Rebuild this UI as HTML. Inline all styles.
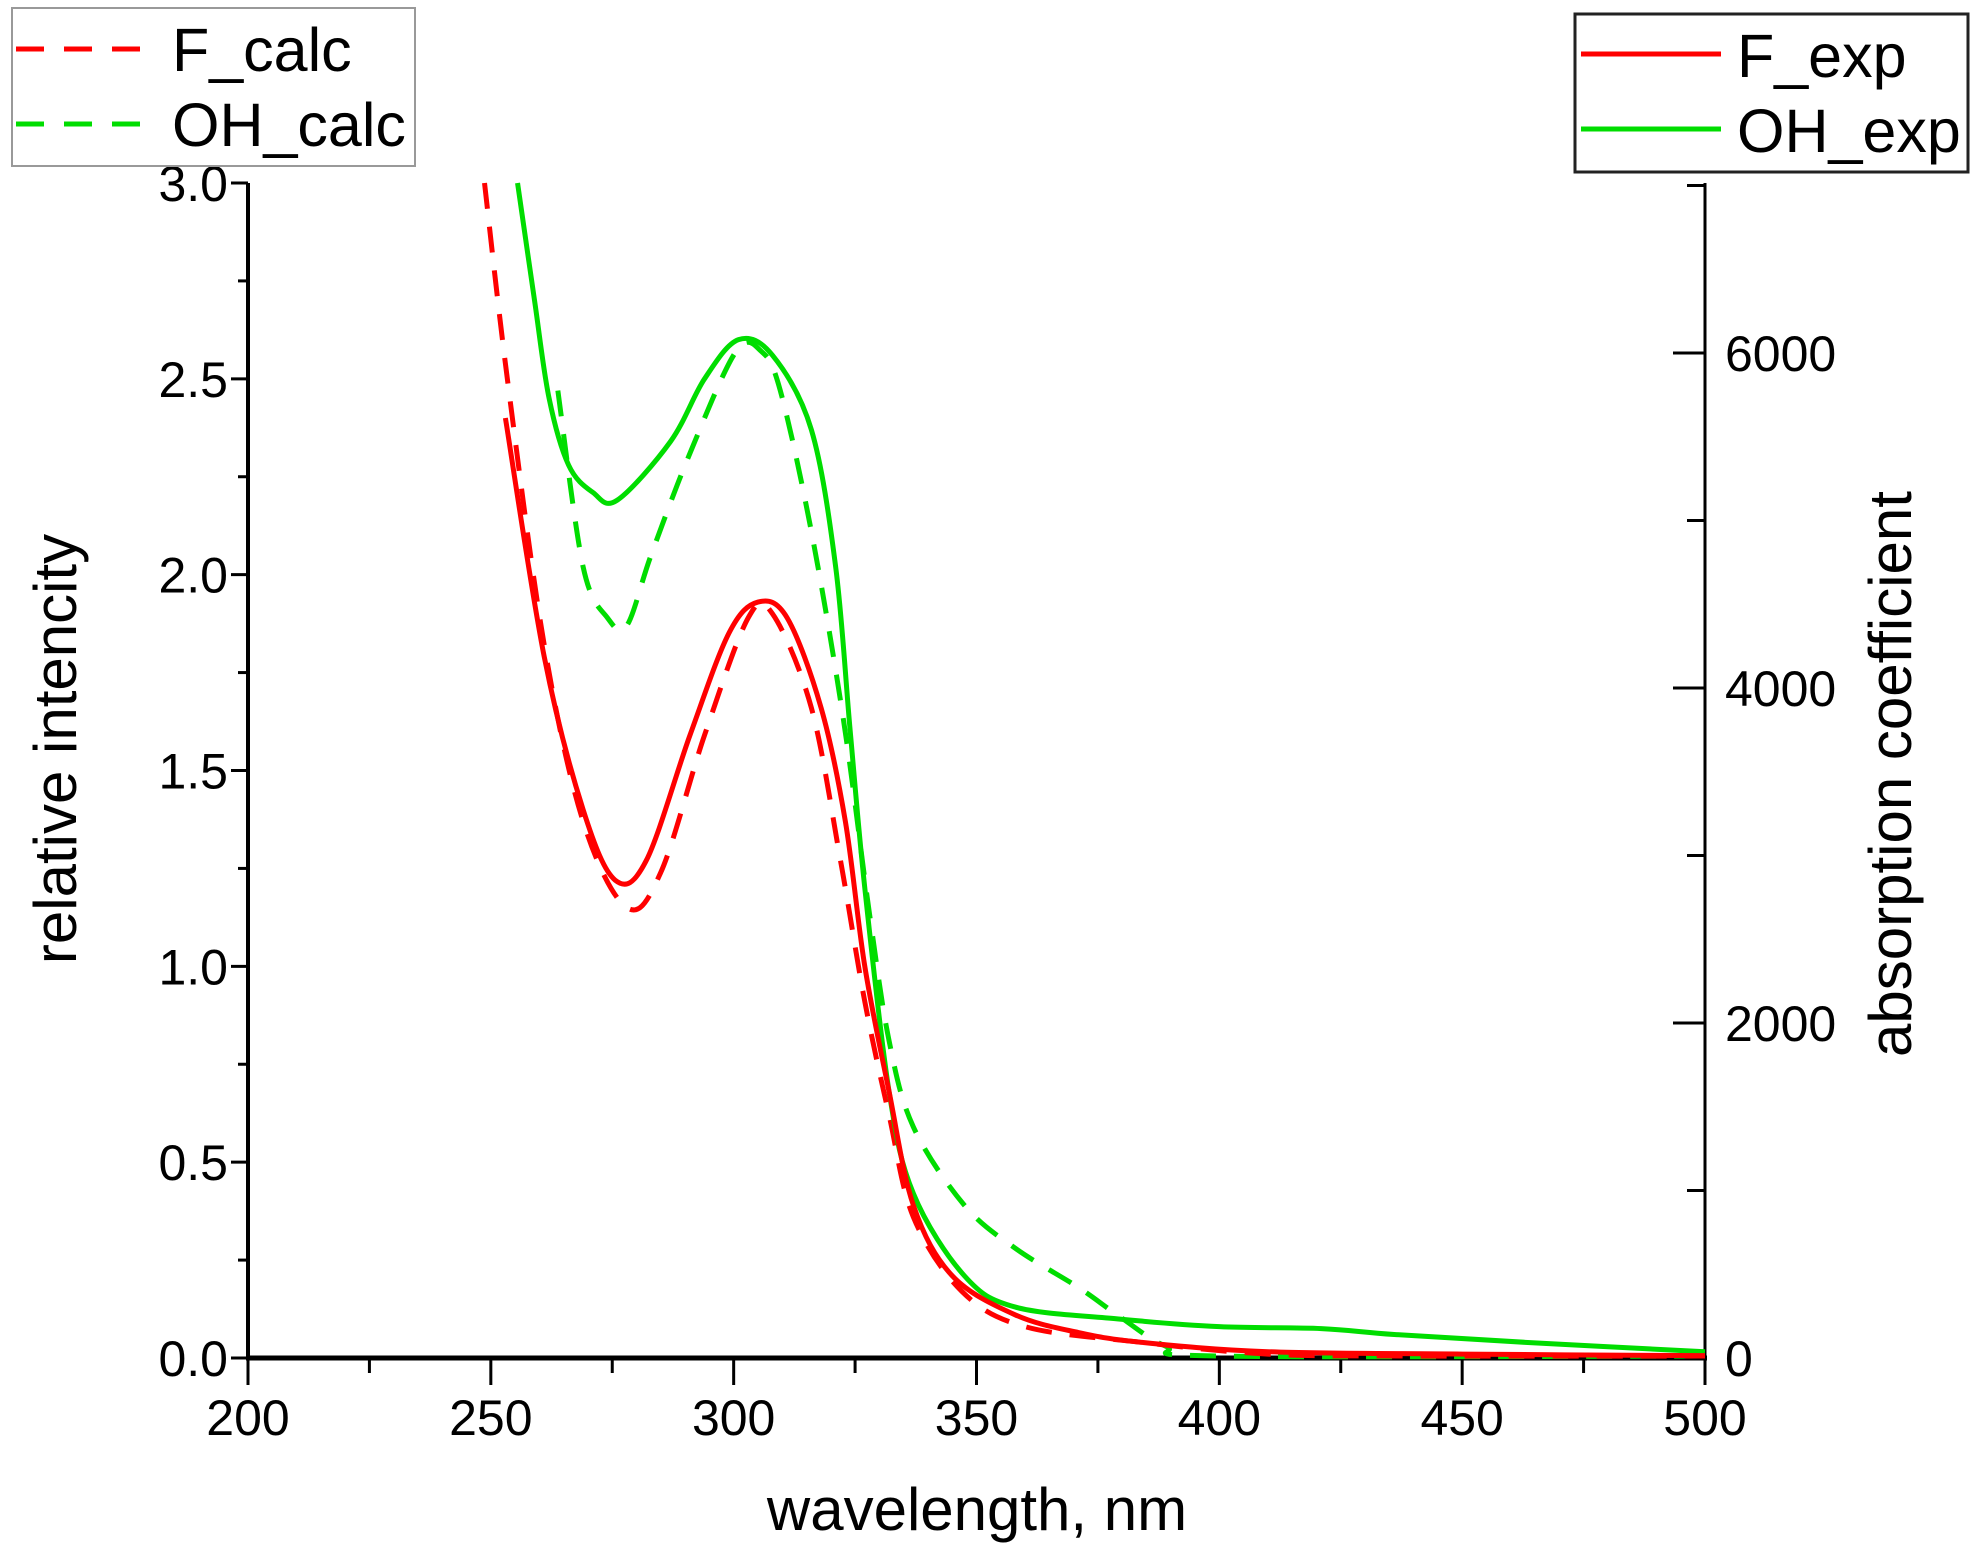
<!DOCTYPE html>
<html><head><meta charset="utf-8"><style>
html,body{margin:0;padding:0;background:#fff;}
svg{display:block;font-family:"Liberation Sans",Arial,sans-serif;}
</style></head><body>
<svg id="s" width="1980" height="1553" viewBox="0 0 1980 1553" xmlns="http://www.w3.org/2000/svg">
<rect width="1980" height="1553" fill="#fff"/>
<g id="ticks" stroke="#000" stroke-width="3"></g>
<line x1="248" y1="183" x2="248" y2="1358" stroke="#000" stroke-width="4"/>
<line x1="1705" y1="183" x2="1705" y2="1358" stroke="#000" stroke-width="3"/>
<line x1="246" y1="1358" x2="1707" y2="1358" stroke="#000" stroke-width="5"/>
<g id="curves" fill="none" stroke-width="5" stroke-linejoin="round"></g>
<g id="labels" font-size="50" fill="#000"></g>
<text x="977" y="1530" font-size="60" text-anchor="middle">wavelength, nm</text>
<text transform="translate(76,749) rotate(-90)" font-size="60" text-anchor="middle">relative intencity</text>
<text transform="translate(1911,774) rotate(-90)" font-size="60" text-anchor="middle">absorption coefficient</text>
<rect x="12" y="8" width="403" height="158" fill="#fff" stroke="#999" stroke-width="2"/>
<line x1="16" y1="49" x2="158" y2="49" stroke="#f00" stroke-width="5" stroke-dasharray="28,20"/>
<line x1="16" y1="124" x2="158" y2="124" stroke="#0d0" stroke-width="5" stroke-dasharray="28,20"/>
<text x="172" y="71" font-size="61">F_calc</text>
<text x="172" y="146" font-size="61">OH_calc</text>
<rect x="1575" y="14" width="393" height="158" fill="#fff" stroke="#222" stroke-width="3"/>
<line x1="1581" y1="54" x2="1721" y2="54" stroke="#f00" stroke-width="5"/>
<line x1="1581" y1="129" x2="1721" y2="129" stroke="#0d0" stroke-width="5"/>
<text x="1737" y="77" font-size="61">F_exp</text>
<text x="1737" y="152" font-size="61">OH_exp</text>
</svg>
<script>
const NS="http://www.w3.org/2000/svg";
const X=w=>248+(w-200)*(1705-248)/300, Y=v=>1358-v*391.67, R=v=>1358-v*(1358-353)/6000;
function el(p,t,a,txt){const e=document.createElementNS(NS,t);for(const k in a)e.setAttribute(k,a[k]);if(txt!==undefined)e.textContent=txt;document.getElementById(p).appendChild(e);}
for(let v=0;v<=3.001;v+=0.25){const y=Y(v),maj=Math.abs(v*2-Math.round(v*2))<1e-6;el('ticks','line',{x1:maj?231:238,y1:y,x2:248,y2:y});if(maj)el('labels','text',{x:228,y:y+18,'text-anchor':'end'},v.toFixed(1));}
for(let w=200;w<=500;w+=25){const x=X(w),maj=w%50==0;el('ticks','line',{x1:x,y1:1358,x2:x,y2:maj?1385:1373});if(maj)el('labels','text',{x:x,y:1435,'text-anchor':'middle'},w);}
for(let v=0;v<=7000;v+=1000){const y=R(v),maj=v%2000==0;el('ticks','line',{x1:maj?1673:1687,y1:y,x2:1705,y2:y});if(maj)el('labels','text',{x:1725,y:y+18},v);}
function path(pts){const P=pts.map(p=>[X(p[0]),Y(p[1])]);let d='M'+P[0][0]+','+P[0][1];for(let i=0;i<P.length-1;i++){const p0=P[Math.max(0,i-1)],p1=P[i],p2=P[i+1],p3=P[Math.min(P.length-1,i+2)];d+=' C'+(p1[0]+(p2[0]-p0[0])/6)+','+(p1[1]+(p2[1]-p0[1])/6)+' '+(p2[0]-(p3[0]-p1[0])/6)+','+(p2[1]-(p3[1]-p1[1])/6)+' '+p2[0]+','+p2[1];}return d;}
const OHexp=[[255.5,3.0],[259,2.7],[262,2.45],[266,2.28],[271,2.21],[276,2.19],[287,2.34],[294,2.5],[301,2.6],[308,2.56],[316,2.37],[321,2.02],[324,1.6],[327,1.2],[332,0.68],[337,0.42],[347.5,0.21],[358,0.13],[379,0.1],[400,0.08],[421,0.075],[436,0.06],[463,0.04],[500,0.016]];
const Fexp=[[253,2.4],[261,1.79],[269,1.40],[275.6,1.22],[282,1.27],[291,1.59],[299,1.85],[305,1.93],[311,1.89],[318,1.66],[323,1.37],[327,1.0],[332,0.68],[337,0.39],[345,0.21],[358,0.11],[371,0.065],[384,0.04],[410,0.016],[450,0.01],[500,0.006]];
const Fcalc=[[248.7,3.0],[253.4,2.5],[261,1.82],[269,1.37],[278,1.15],[285,1.24],[294,1.59],[303,1.89],[308,1.9],[316,1.66],[322,1.27],[327,0.91],[332,0.62],[337,0.36],[347,0.17],[360,0.08],[384,0.04],[410,0.01],[440,0.005],[500,0.005]];
const OHcalc=[[263.8,2.47],[269,2.02],[274,1.89],[278,1.87],[283,2.05],[291,2.31],[300.5,2.57],[305.7,2.57],[309.6,2.47],[316,2.11],[322.6,1.63],[327.9,1.14],[332,0.81],[337,0.59],[347.5,0.39],[358,0.28],[371,0.18],[379,0.11],[389,0.03],[400,0.005],[500,0.005]];
el('curves','path',{d:path(OHcalc),stroke:'#0d0','stroke-dasharray':'26,18'});
el('curves','path',{d:path(Fcalc),stroke:'#f00','stroke-dasharray':'26,18'});
el('curves','path',{d:path(OHexp),stroke:'#0d0'});
el('curves','path',{d:path(Fexp),stroke:'#f00'});
</script>
</body></html>
